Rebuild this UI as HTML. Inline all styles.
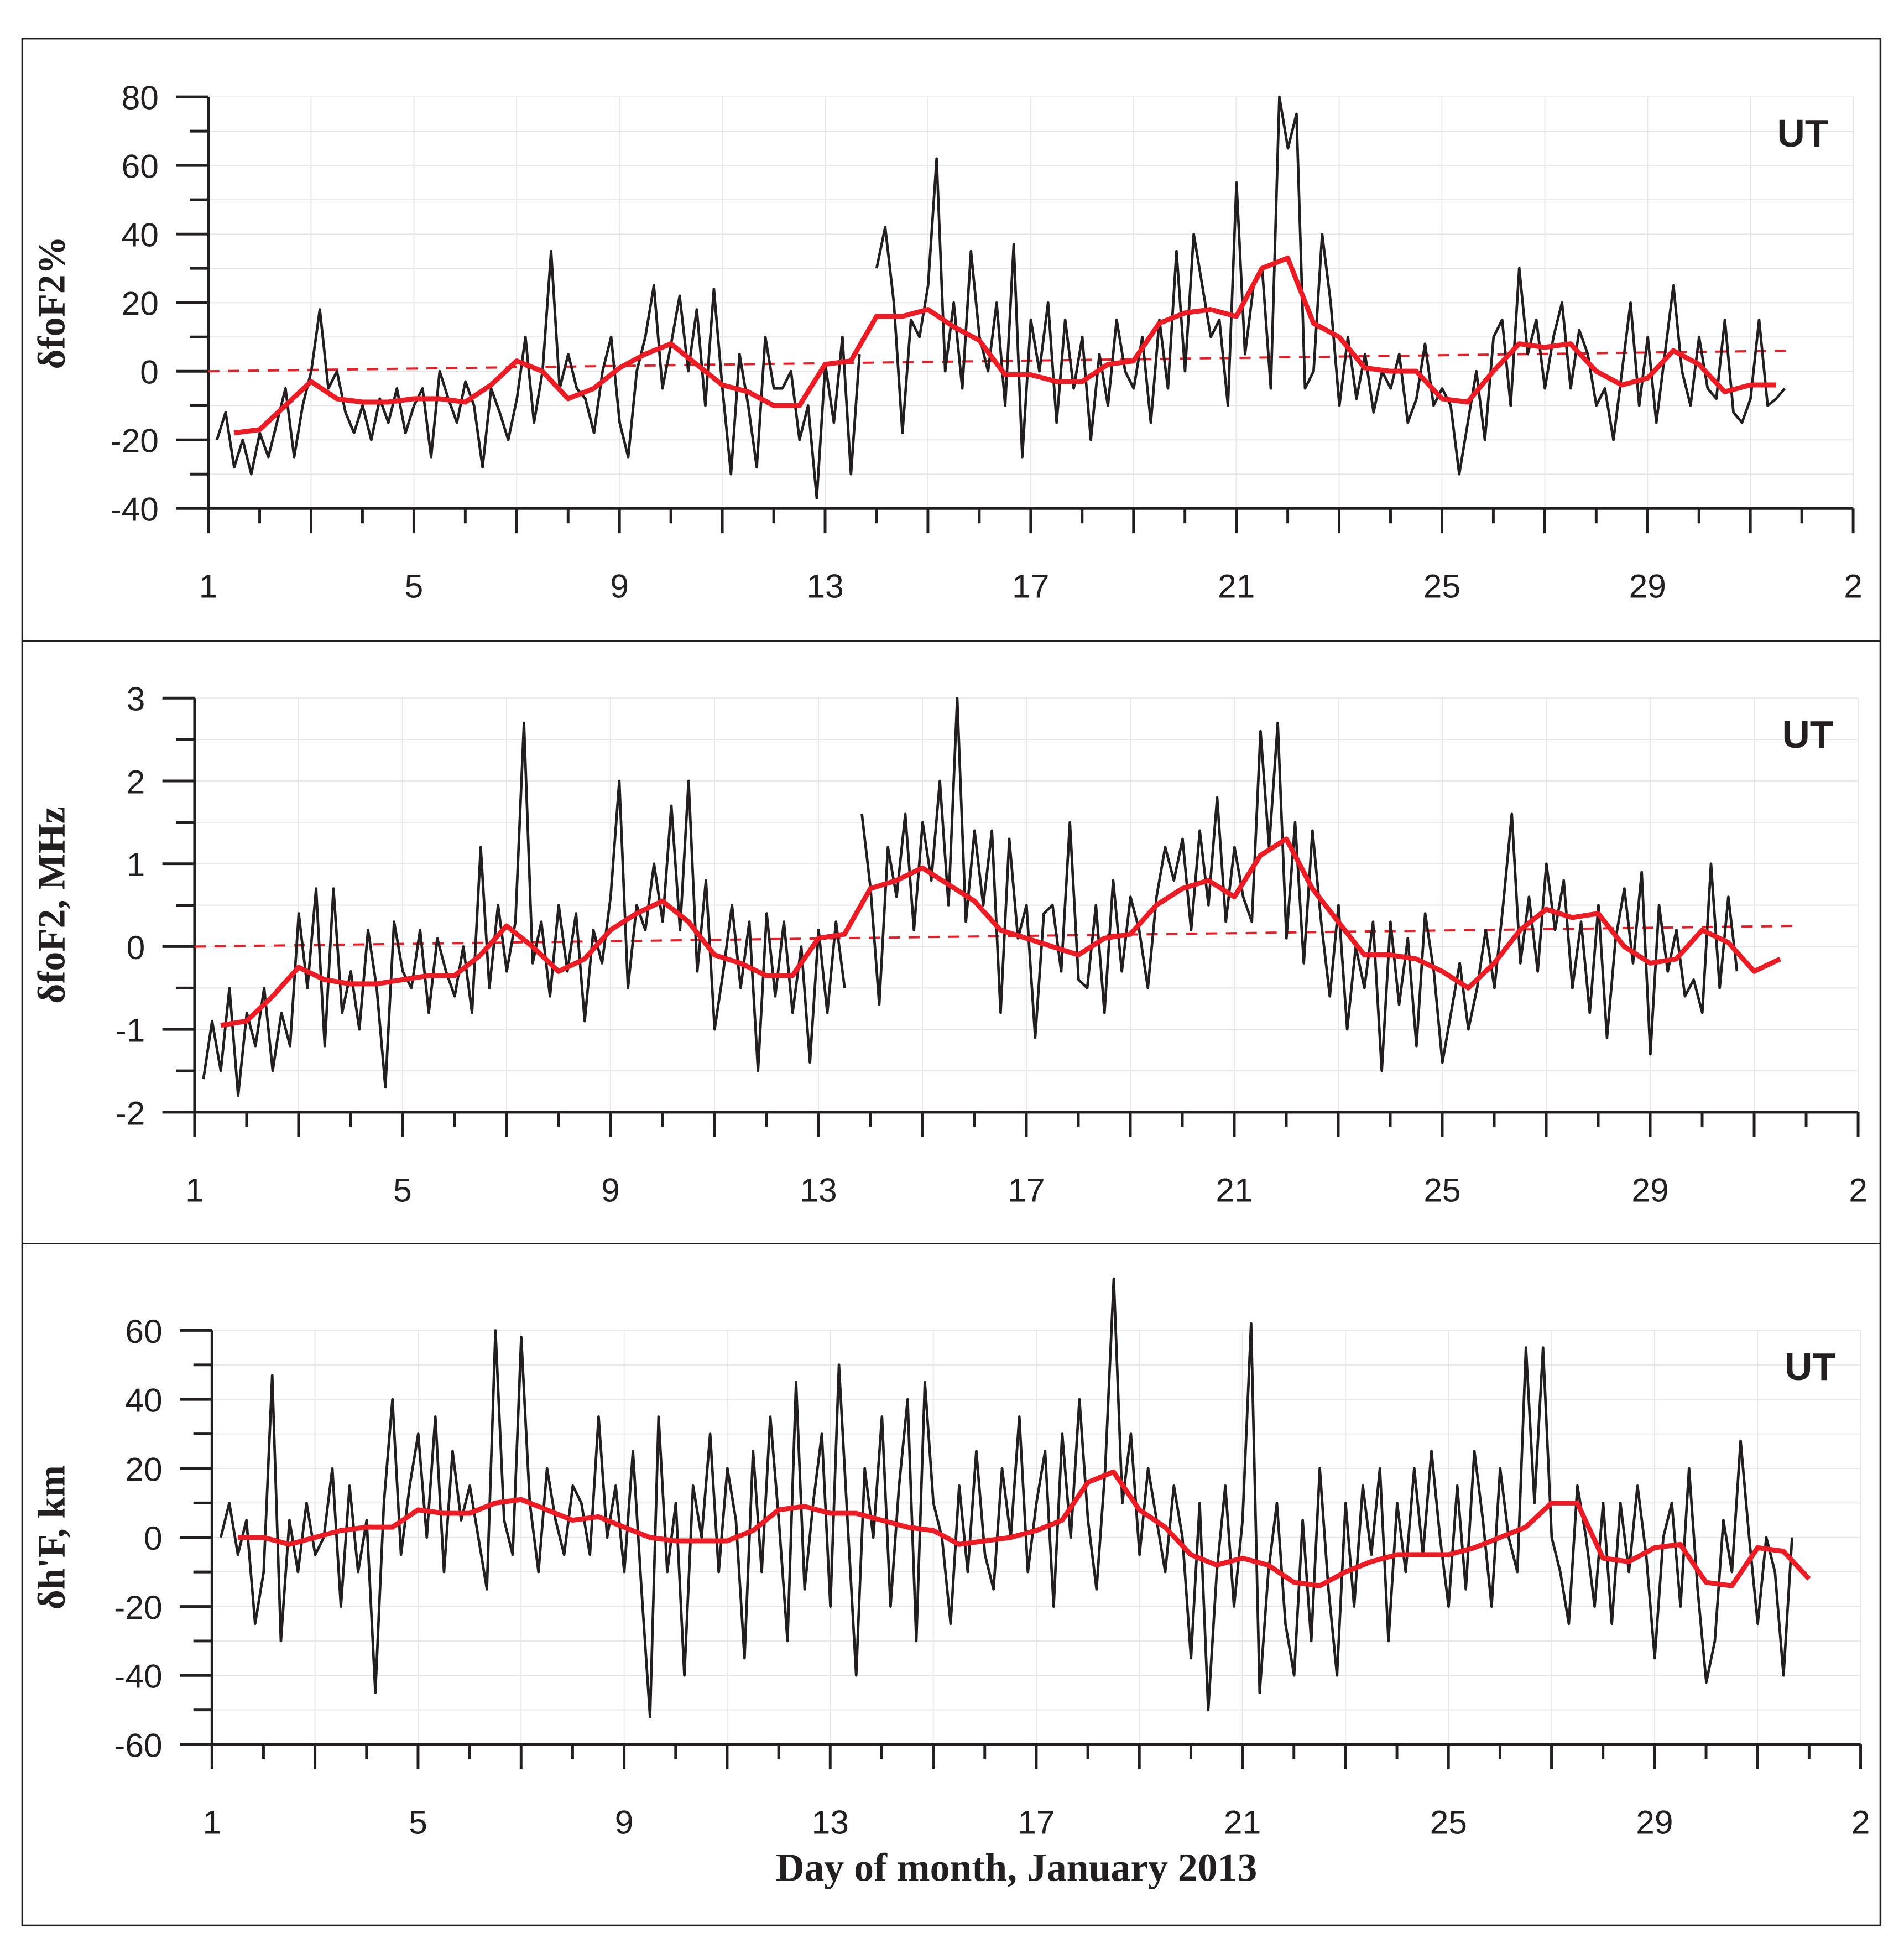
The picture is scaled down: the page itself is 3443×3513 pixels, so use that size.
<!DOCTYPE html>
<html><head><meta charset="utf-8"><style>
html,body{margin:0;padding:0;background:#fff}
svg{display:block}
text{font-family:"Liberation Sans",Arial,sans-serif;fill:#231f20}
.ser{font-family:"Liberation Serif","Times New Roman",serif;font-weight:bold}
</style></head><body>
<svg id="chart" xmlns="http://www.w3.org/2000/svg" width="3443" height="3513" viewBox="0 0 1536 1567">
<rect x="0" y="0" width="1536" height="1567" fill="#fff"/>
<rect x="18" y="31" width="1499" height="1522" fill="none" stroke="#231f20" stroke-width="1.5"/>
<line x1="18" y1="517" x2="1517" y2="517" stroke="#231f20" stroke-width="1.2"/>
<line x1="18" y1="1003" x2="1517" y2="1003" stroke="#231f20" stroke-width="1.2"/>
<text class="ser" x="820" y="1517" font-size="32" text-anchor="middle">Day of month, January 2013</text>
</svg>
<script>
// ---- Panel 1: δfoF2 % ----
const p1Start = 1.17;
const p1Black = [
-20,-12,-28,-20,-30,-18, -25,-15,-5,-25,-10,0, 18,-5,0,-12,-18,-10, -20,-8,-15,-5,-18,-10,
-5,-25,0,-8,-15,-3, -10,-28,-5,-12,-20,-8, 10,-15,0,35,-5,5, -5,-8,-18,0,10,-15,
-25,0,10,25,-5,8, 22,0,18,-10,24,-5, -30,5,-10,-28,10,-5, -5,0,-20,-10,-37,2,
-15,10,-30,5,null,30, 42,20,-18,15,10,25, 62,0,20,-5,35,10, 0,20,-10,37,-25,15,
0,20,-15,15,-5,10, -20,5,-10,15,0,-5, 10,-15,15,-5,35,0, 40,25,10,15,-10,55,
5,25,30,-5,80,65, 75,-5,0,40,20,-10, 10,-8,5,-12,0,-5, 5,-15,-8,8,-10,-5,
-10,-30,-15,0,-20,10, 15,-10,30,5,15,-5, 10,20,-5,12,5,-10, -5,-20,0,20,-10,10,
-15,5,25,0,-10,10, -5,-8,15,-12,-15,-8, 15,-10,-8,-5];
const p1RedStart = 1.5;
const p1Red = [-18,-17,-10,-3,-8,-9,-9,-8,-8,-9,-4,3,0,-8,-5,1,5,8,2,-4,-6,-10,-10,2,3,16,16,18,13,9,-1,-1,-3,-3,2,3,14,17,18,16,30,33,14,10,1,0,0,-8,-9,0,8,7,8,0,-4,-2,6,2,-6,-4,-4];
const p1Trend = [0, 6];
const p1YTicks = [80,60,40,20,0,-20,-40];

// ---- Panel 2: δfoF2 MHz ----
const p2Start = 1.17;
const p2Black = [
-1.6,-0.9,-1.5,-0.5,-1.8,-0.8, -1.2,-0.5,-1.5,-0.8,-1.2,0.4, -0.5,0.7,-1.2,0.7,-0.8,-0.3, -1.0,0.2,-0.5,-1.7,0.3,-0.3,
-0.5,0.2,-0.8,0.1,-0.3,-0.6, 0,-0.8,1.2,-0.5,0.5,-0.3, 0.3,2.7,-0.2,0.3,-0.6,0.5, -0.3,0.4,-0.9,0.2,-0.2,0.6,
2.0,-0.5,0.5,0.2,1.0,0.3, 1.7,0.2,2.0,-0.3,0.8,-1.0, -0.3,0.5,-0.5,0.3,-1.5,0.4, -0.6,0.3,-0.8,0,-1.4,0.2,
-0.8,0.3,-0.5,null,1.6,0.7, -0.7,1.2,0.6,1.6,0.2,1.5, 0.8,2.0,0.5,3.0,0.3,1.4, 0.5,1.4,-0.8,1.3,0.1,0.5,
-1.1,0.4,0.5,-0.3,1.5,-0.4, -0.5,0.5,-0.8,0.8,-0.3,0.6, 0.2,-0.5,0.6,1.2,0.8,1.3, 0.2,1.4,0.5,1.8,0.3,1.2,
0.6,0.3,2.6,1.2,2.7,0.1, 1.5,-0.2,1.4,0.3,-0.6,0.5, -1.0,0,-0.5,0.3,-1.5,0.3, -0.7,0.1,-1.2,0.4,-0.3,-1.4,
-0.8,-0.2,-1.0,-0.5,0.2,-0.5, 0.5,1.6,-0.2,0.6,-0.3,1.0, 0.2,0.8,-0.5,0.3,-0.8,0.5, -1.1,0.1,0.7,-0.2,0.9,-1.3,
0.5,-0.3,0.2,-0.6,-0.4,-0.8, 1.0,-0.5,0.6,-0.3];
const p2RedStart = 1.5;
const p2Red = [-0.95,-0.9,-0.6,-0.25,-0.4,-0.45,-0.45,-0.4,-0.35,-0.35,-0.1,0.25,0,-0.3,-0.15,0.2,0.4,0.55,0.3,-0.1,-0.2,-0.35,-0.35,0.1,0.15,0.7,0.8,0.95,0.75,0.55,0.2,0.1,0,-0.1,0.1,0.15,0.5,0.7,0.8,0.6,1.1,1.3,0.7,0.3,-0.1,-0.1,-0.15,-0.3,-0.5,-0.2,0.2,0.45,0.35,0.4,0,-0.2,-0.15,0.2,0.05,-0.3,-0.15];
const p2Trend = [0, 0.25];
const p2YTicks = [3,2,1,0,-1,-2];

// ---- Panel 3: δh'F km ----
const p3Start = 1.17;
const p3Black = [
0,10,-5,5,-25,-10, 47,-30,5,-10,10,-5, 0,20,-20,15,-10,5, -45,10,40,-5,15,30,
0,35,-10,25,5,15, 0,-15,60,5,-5,58, 10,-10,20,5,-5,15, 10,-5,35,0,15,-10,
25,-15,-52,35,-10,10, -40,15,0,30,-10,20, 5,-35,25,-10,35,5, -30,45,-15,10,30,-20,
50,5,-40,20,0,35, -20,15,40,-30,45,10, 0,-25,15,-10,25,-5, -15,20,0,35,-10,10,
25,-20,30,0,40,5, -15,20,75,10,30,-5, 20,5,-10,15,0,-35, 10,-50,-10,15,-20,5,
62,-45,-10,10,-25,-40, 5,-30,20,-15,-40,10, -20,15,-5,20,-30,10, -10,20,-5,25,0,-20,
15,-15,25,5,-20,20, 0,-10,55,10,55,0, -10,-25,15,0,-20,10, -25,10,-10,15,-5,-35,
0,10,-20,20,-15,-42, -30,5,-10,28,0,-25, 0,-10,-40,0];
const p3RedStart = 1.5;
const p3Red = [0,0,-2,0,2,3,3,8,7,7,10,11,8,5,6,3,0,-1,-1,-1,2,8,9,7,7,5,3,2,-2,-1,0,2,5,16,19,8,3,-5,-8,-6,-8,-13,-14,-10,-7,-5,-5,-5,-3,0,3,10,10,-6,-7,-3,-2,-13,-14,-3,-4,-12];
const p3YTicks = [60,40,20,0,-20,-40,-60];

const xLabels = ["1","5","9","13","17","21","25","29","2"];

const NS = "http://www.w3.org/2000/svg";
const svg = document.getElementById('chart');
function mk(tag, attrs, parent){const e=document.createElementNS(NS,tag);for(const k in attrs)e.setAttribute(k,attrs[k]);(parent||svg).appendChild(e);return e;}

function panel(o){
  const g = mk('g',{});
  
  
  const xs = d => o.x0 + (d-1)*(o.x1-o.x0)/32;
  const ys = v => o.y0 + (o.ymax-v)*(o.y1-o.y0)/(o.ymax-o.ymin);
  for(let d=1; d<=33; d+=2){ mk('line',{x1:xs(d),x2:xs(d),y1:o.y0,y2:o.y1,stroke:'#e6e6e6','stroke-width':0.8},g); }
  for(let v=o.ymin; v<=o.ymax+1e-9; v+=o.minor){ mk('line',{x1:o.x0,x2:o.x1,y1:ys(v),y2:ys(v),stroke:'#e6e6e6','stroke-width':0.8},g); }
  const xa = mk('line',{x1:o.x0,x2:o.x1,y1:o.y1,y2:o.y1,stroke:'#231f20','stroke-width':2.2},g);
  
  
  const ya = mk('line',{x1:o.x0,x2:o.x0,y1:o.y0,y2:o.y1,stroke:'#231f20','stroke-width':2.2},g);
  
  
  for(let d=1; d<=33; d++){
    const L = (d%2===1)?20:12;
    mk('line',{x1:xs(d),x2:xs(d),y1:o.y1,y2:o.y1+L,stroke:'#231f20','stroke-width':2.2},g);
  }
  xLabels.forEach((s,i)=>{
    const t = mk('text',{x:xs(1+4*i),y:o.y1+72,'font-size':27,'text-anchor':'middle'},g);
    t.textContent = s;
    
    
  });
  for(let v=o.ymin; v<=o.ymax+1e-9; v+=o.minor){
    const isMaj = o.ticks.some(t=>Math.abs(t-v)<1e-9);
    mk('line',{x1:o.x0-(isMaj?26:15),x2:o.x0,y1:ys(v),y2:ys(v),stroke:'#231f20','stroke-width':2.2},g);
  }
  o.ticks.forEach(v=>{
    const t = mk('text',{x:o.x0-40,y:ys(v)+10,'font-size':27,'text-anchor':'end'},g);
    t.textContent = String(v);
    
    
  });
  const yt = mk('text',{x:0,y:0,'font-size':31,'text-anchor':'middle',class:'ser',transform:`translate(${o.titleX},${(o.y0+o.y1)/2}) rotate(-90)`},g);
  yt.textContent = o.title;
  
  
  const ut = mk('text',{x:o.x1-20,y:o.y0+40,'font-size':31,'font-weight':'bold','text-anchor':'end'},g);
  ut.textContent = 'UT';
  
  
  if(o.trend){
    const tr = mk('line',{x1:xs(1),y1:ys(o.trend[0]),x2:xs(31.8),y2:ys(o.trend[1]),stroke:'#ed1c24','stroke-width':1.8,'stroke-dasharray':'9,7'},g);
    
    
  }
  let d='', pen=false;
  o.black.forEach((v,i)=>{
    if(v===null){pen=false;return;}
    d += (pen?'L':'M') + xs(o.bStart+i/6).toFixed(1)+','+ys(v).toFixed(1);
    pen=true;
  });
  const bl = mk('path',{d:d,fill:'none',stroke:'#231f20','stroke-width':2.1,'stroke-linejoin':'round'},g);
  
  
  let dr='';
  o.red.forEach((v,i)=>{ dr += (i?'L':'M') + xs(o.rStart+i*0.5).toFixed(1)+','+ys(v).toFixed(1); });
  const rl = mk('path',{d:dr,fill:'none',stroke:'#ed1c24','stroke-width':4,'stroke-linejoin':'round'},g);
  
  
}

panel({name:'panel-foF2-percent',x0:168,x1:1495,y0:78,y1:410,ymin:-40,ymax:80,minor:10,ticks:p1YTicks,title:'δfoF2%',titleX:52,trend:p1Trend,black:p1Black,bStart:p1Start,red:p1Red,rStart:p1RedStart});
panel({name:'panel-foF2-mhz',x0:157,x1:1499,y0:563,y1:897,ymin:-2,ymax:3,minor:0.5,ticks:p2YTicks,title:'δfoF2, MHz',titleX:52,trend:p2Trend,black:p2Black,bStart:p2Start,red:p2Red,rStart:p2RedStart});
panel({name:'panel-hF-km',x0:171,x1:1501,y0:1073,y1:1407,ymin:-60,ymax:60,minor:10,ticks:p3YTicks,title:"δh'F, km",titleX:52,trend:null,black:p3Black,bStart:p3Start,red:p3Red,rStart:p3RedStart});
</script>
</body></html>
